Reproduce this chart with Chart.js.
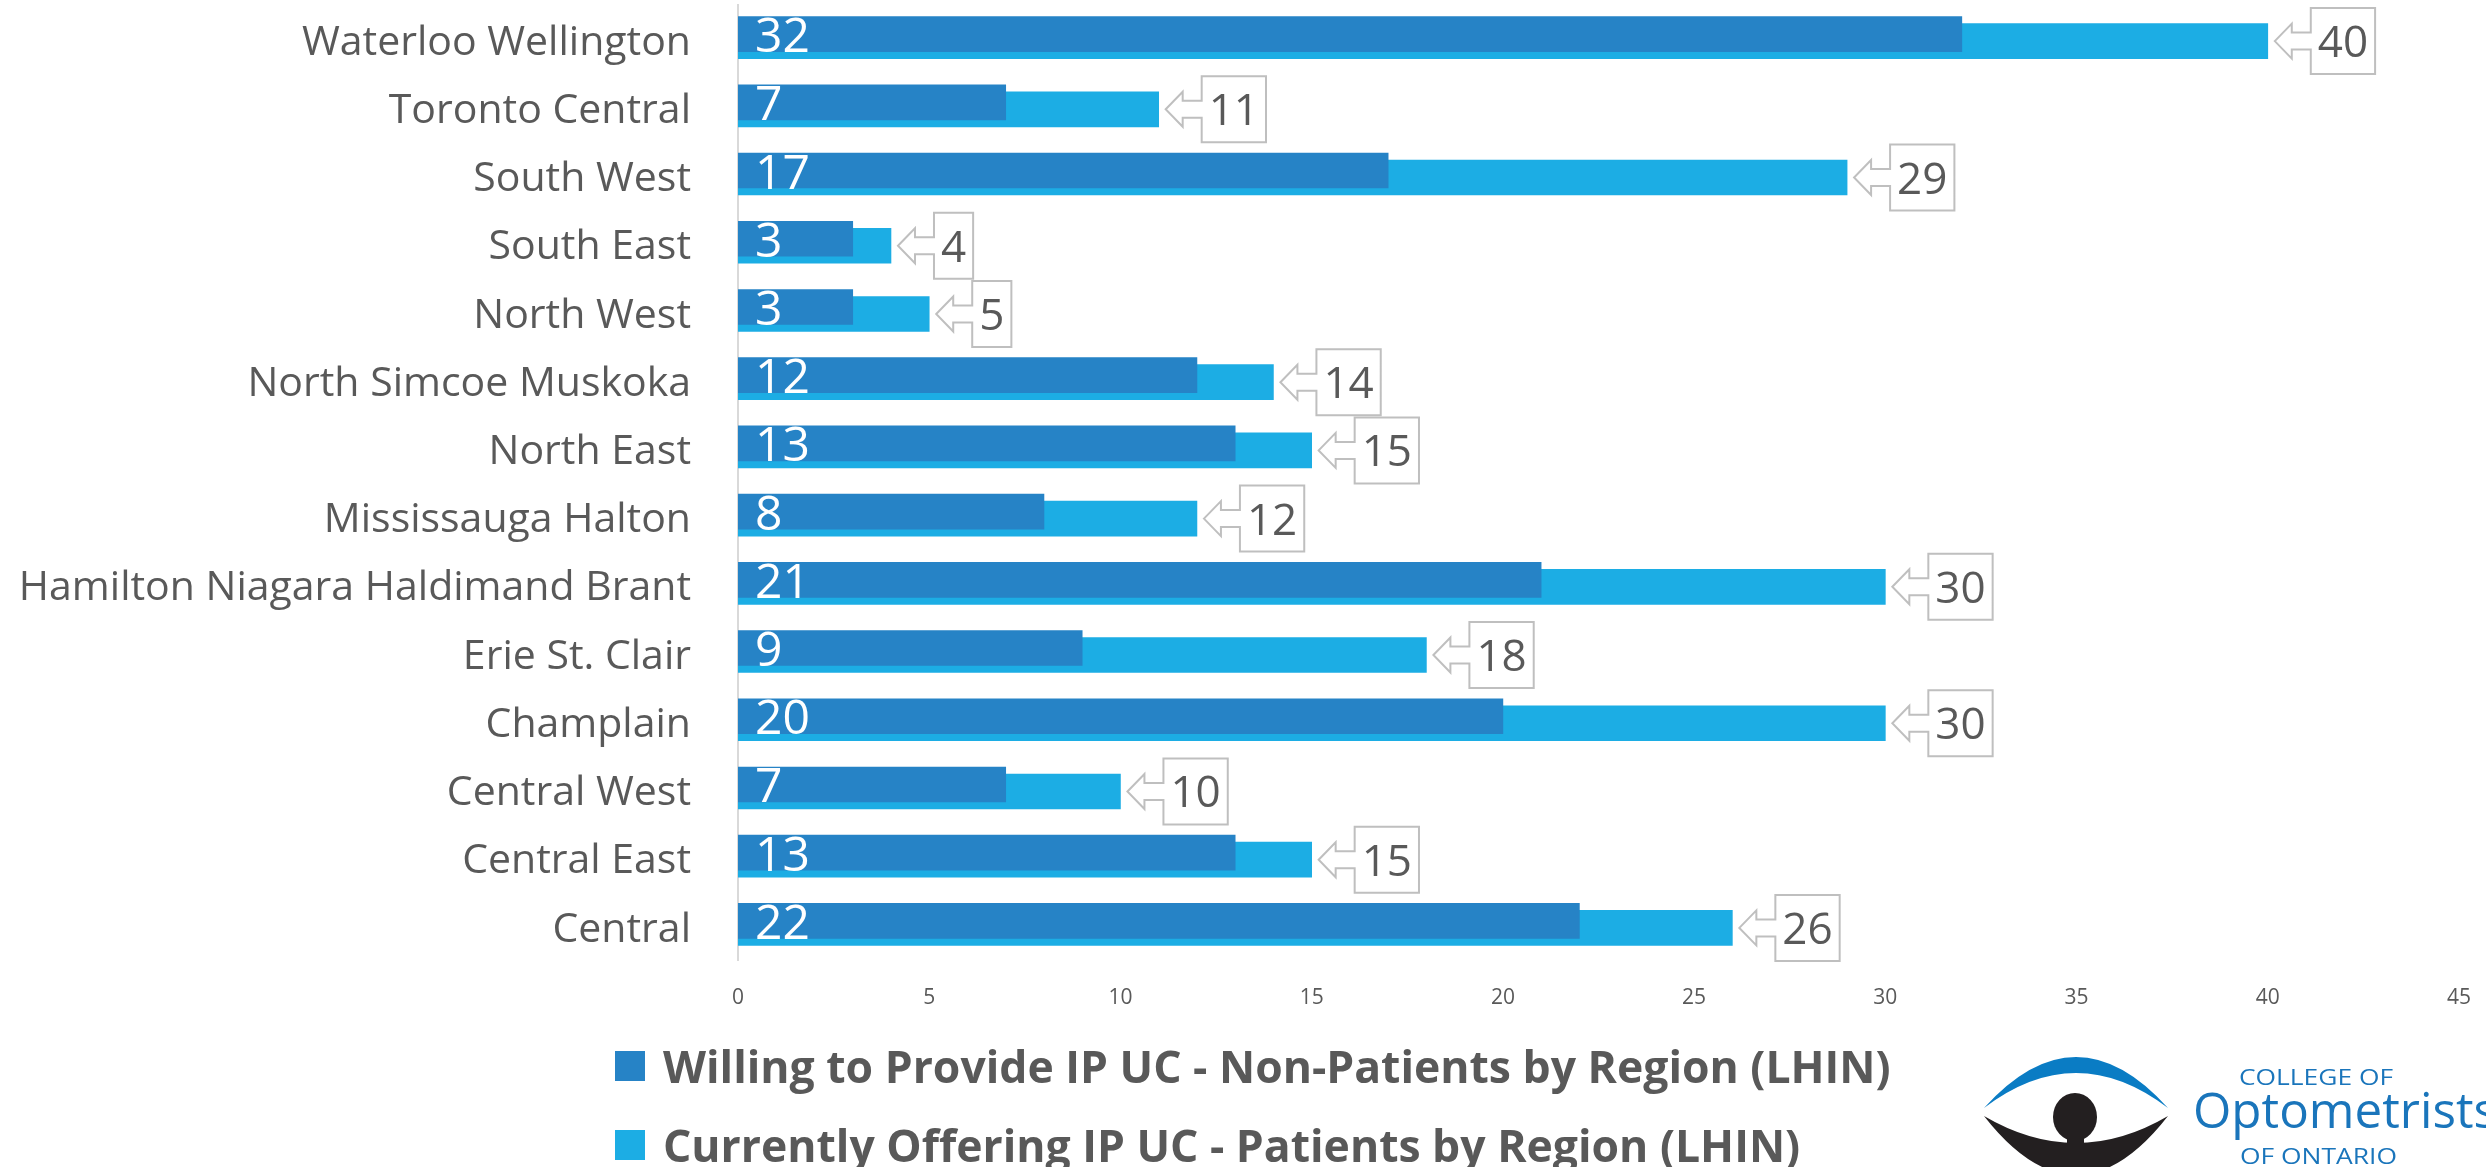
<!DOCTYPE html>
<html>
<head>
<meta charset="utf-8">
<script src="https://cdn.jsdelivr.net/npm/chart.js@4.4.1/dist/chart.umd.min.js"></script>
<style>
  html, body { margin: 0; padding: 0; background: #fff; }
  #wrap { position: relative; width: 2486px; height: 1167px; overflow: hidden; }
  #wrap canvas { position: absolute; left: 0; top: 0; }
  .leyenda { position: absolute; left: 615px; display: flex; align-items: center;
    font-family: "Open Sans"; font-weight: 700; font-size: 44.5px; color: #595959; white-space: nowrap; }
  .leyenda .cuadro { width: 30px; height: 30px; margin-right: 18px; }
  #logo { position: absolute; left: 1975px; top: 1040px; }
</style>
</head>
<body>
<div id="wrap">
  <canvas id="grafica" width="2486" height="1167"></canvas>
  <div id="leyendas"></div>
  <svg id="logo" width="511" height="127" viewBox="0 0 511 127">
    <path d="M9 68 Q101 -34 193 68 Q101 -2 9 68 Z" fill="#0a7cc4"/>
    <path d="M9 76 Q101 194 193 76 Q101 130 9 76 Z" fill="#231f20"/>
    <ellipse cx="100" cy="77" rx="22" ry="24" fill="#231f20"/>
    <rect x="92" y="95" width="17" height="35" fill="#231f20"/>
    <text x="264" y="45" font-family="Open Sans" font-size="22" fill="#1a75bb" textLength="154" lengthAdjust="spacingAndGlyphs">COLLEGE OF</text>
    <text x="218" y="88" font-family="Open Sans" font-size="50" fill="#1a75bb" textLength="304" lengthAdjust="spacingAndGlyphs">Optometrists</text>
    <text x="265" y="124" font-family="Open Sans" font-size="22" fill="#1a75bb" textLength="157" lengthAdjust="spacingAndGlyphs">OF ONTARIO</text>
  </svg>
</div>
<script>
// Datos de la gráfica
const regiones = ['Waterloo Wellington', 'Toronto Central', 'South West', 'South East', 'North West',
  'North Simcoe Muskoka', 'North East', 'Mississauga Halton', 'Hamilton Niagara Haldimand Brant',
  'Erie St. Clair', 'Champlain', 'Central West', 'Central East', 'Central'];
const dispuestos = [32, 7, 17, 3, 3, 12, 13, 8, 21, 9, 20, 7, 13, 22];
const ofreciendo = [40, 11, 29, 4, 5, 14, 15, 12, 30, 18, 30, 10, 15, 26];
const marcasX = [0, 5, 10, 15, 20, 25, 30, 35, 40, 45];
const nombresSeries = ['Willing to Provide IP UC - Non-Patients by Region (LHIN)',
  'Currently Offering IP UC - Patients by Region (LHIN)'];
const coloresSeries = ['#2683C6', '#1CADE4'];

const gris = '#595959';

// Leyenda en HTML
const leyendas = document.getElementById('leyendas');
nombresSeries.forEach((nombre, i) => {
  const fila = document.createElement('div');
  fila.className = 'leyenda';
  fila.style.top = (1035 + i * 79) + 'px';
  fila.innerHTML = `<span class="cuadro" style="background:${coloresSeries[i]}"></span>${nombre}`;
  leyendas.appendChild(fila);
});

// Desplaza un poco cada serie para que se solapen como en el original
const desplazarBarras = {
  id: 'desplazarBarras',
  afterDatasetsUpdate(chart) {
    chart.data.datasets.forEach((ds, i) => {
      chart.getDatasetMeta(i).data.forEach(el => { el.y += ds.desplazamiento; });
    });
  }
};

// Etiquetas: valores blancos dentro de la barra oscura y cuadros con flecha
const etiquetas = {
  id: 'etiquetas',
  afterDatasetsDraw(chart) {
    const ctx = chart.ctx;
    ctx.save();
    ctx.font = '48px "Open Sans"';
    ctx.fillStyle = '#fff';
    ctx.textAlign = 'left';
    ctx.textBaseline = 'alphabetic';
    chart.getDatasetMeta(0).data.forEach((bar, i) => {
      ctx.fillText(dispuestos[i], bar.base + 17, bar.y + 18);
    });

    ctx.font = '44px "Open Sans"';
    ctx.textAlign = 'center';
    chart.getDatasetMeta(1).data.forEach((bar, i) => {
      const texto = String(ofreciendo[i]);
      const ancho = ctx.measureText(texto).width + 14;
      const punta = bar.x + 7;
      const y = bar.y;
      const cabeza = punta + 17;
      const caja = punta + 36;
      ctx.beginPath();
      ctx.moveTo(punta, y);
      ctx.lineTo(cabeza, y - 17.5);
      ctx.lineTo(cabeza, y - 8.5);
      ctx.lineTo(caja, y - 8.5);
      ctx.lineTo(caja, y - 33);
      ctx.lineTo(caja + ancho, y - 33);
      ctx.lineTo(caja + ancho, y + 33);
      ctx.lineTo(caja, y + 33);
      ctx.lineTo(caja, y + 8.5);
      ctx.lineTo(cabeza, y + 8.5);
      ctx.lineTo(cabeza, y + 17.5);
      ctx.closePath();
      ctx.fillStyle = '#fff';
      ctx.fill();
      ctx.strokeStyle = '#BFBFBF';
      ctx.lineWidth = 2;
      ctx.stroke();
      ctx.fillStyle = gris;
      ctx.fillText(texto, caja + ancho / 2, y + 16);
    });
    ctx.restore();
  }
};

new Chart(document.getElementById('grafica'), {
  type: 'bar',
  data: {
    labels: regiones,
    datasets: [{
      label: nombresSeries[0],
      data: dispuestos,
      backgroundColor: coloresSeries[0],
      barThickness: 35,
      grouped: false,
      desplazamiento: -5,
    }, {
      label: nombresSeries[1],
      data: ofreciendo,
      backgroundColor: coloresSeries[1],
      barThickness: 35,
      grouped: false,
      desplazamiento: 2,
    }],
  },
  options: {
    indexAxis: 'y',
    responsive: false,
    animation: false,
    layout: { padding: { top: 5, right: 27, bottom: 0, left: 0 } },
    plugins: {
      legend: { display: false },
      tooltip: { enabled: false }
    },
    scales: {
      x: {
        min: 0,
        max: 45,
        afterBuildTicks: s => { s.ticks = marcasX.map(v => ({ value: v })); },
        afterFit: s => { s.height = 207; s.paddingLeft = 0; s.paddingRight = 0; },
        ticks: {
          font: { family: 'Open Sans', size: 21 },
          color: gris,
          padding: 17,
          maxRotation: 0
        },
        grid: { display: false },
        border: { display: false }
      },
      y: {
        afterFit: s => { s.width = 738; s.paddingTop = 0; s.paddingBottom = 0; },
        ticks: {
          font: { family: 'Open Sans', size: 41 },
          color: gris,
          padding: 47,
          labelOffset: 4
        },
        grid: { color: 'transparent', drawTicks: false },
        border: { display: true, color: '#D9D9D9', width: 2 }
      }
    }
  },
  plugins: [desplazarBarras, etiquetas]
});
</script>
</body>
</html>
